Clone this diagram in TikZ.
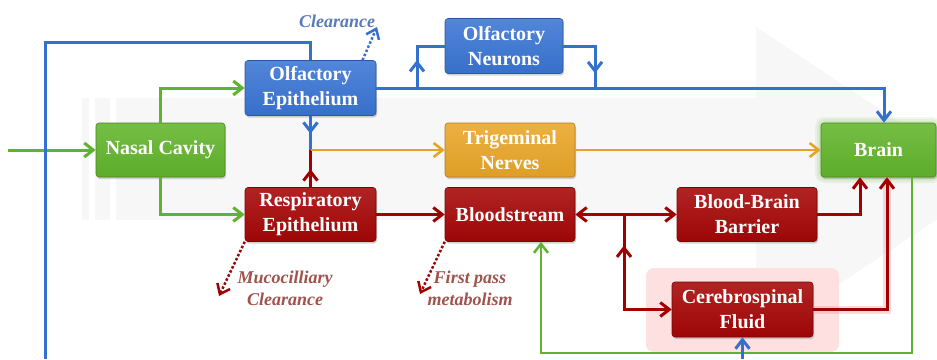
\documentclass[tikz,border=0pt]{standalone}
\usepackage{fontspec}
\setmainfont{Liberation Serif}
\usetikzlibrary{arrows.meta,shadows,decorations.markings}

\definecolor{nasalgreen}{RGB}{98,181,44}
\definecolor{olfblue}{RGB}{58,117,212}
\definecolor{trigorange}{RGB}{234,166,40}
\definecolor{bloodred}{RGB}{166,6,6}
\definecolor{linegreen}{RGB}{96,178,48}
\definecolor{lineblue}{RGB}{52,112,206}
\definecolor{lineorange}{RGB}{228,165,38}
\definecolor{linered}{RGB}{160,0,0}
\definecolor{mucobrown}{RGB}{160,82,76}
\definecolor{clrblue}{RGB}{90,122,184}

\begin{document}
\begin{tikzpicture}[x = {(1pt,0pt)},
  y = {(0pt,-1pt)},
  >={Straight Barb[length=9pt,width=14pt]},
  box/.style = {rounded corners=3pt, draw=#1!75!black, line width=0.6pt,
    top color=#1!88!white, bottom color=#1!95!black, text=white, align=center,
    minimum height=54pt, inner sep=0pt,
    font=\fontsize{20}{25}\selectfont\bfseries,
    drop shadow={opacity=0.35, shadow xshift=1pt, shadow yshift=-2pt}},
  lbl/.style = {align=center, inner sep=0pt,
    font=\fontsize{18}{22}\selectfont\bfseries\itshape},
  gline/.style = {draw=linegreen, line width=3pt},
  bline/.style = {draw=lineblue, line width=3pt},
  oline/.style = {draw=lineorange, line width=2.6pt},
  rline/.style = {draw=linered, line width=3pt},
  rdot/.style = {draw=linered, line width=2.5pt, dotted},
  bdot/.style = {draw=lineblue, line width=2.5pt, dotted},
  midarrow/.style = {postaction={decorate}, decoration={markings,
    mark=at position #1 with {\arrow{>}}}},
  revarrow/.style = {postaction={decorate}, decoration={markings,
    mark=at position #1 with {\arrowreversed{>}}}}]

  \useasboundingbox (0,0) rectangle (937,359);

  % background arrow
  \begin{scope}
  \clip (0,0) rectangle (937,359);
  \foreach \a/\b in {82/89, 95/110, 116/757}
  \fill[black!3] (\a,98) rectangle (\b,220);
  \fill[black!3] (756,27) -- (992,183) -- (756,339) -- cycle;

  % glow round the brain
  \foreach \g in {4,8,12}
  \draw[linegreen!70, opacity=0.15, line width=\g pt, rounded corners=4pt]
  (821,123) rectangle (936,177);
  \end{scope}

  % halo round the fluid
  \fill[red!12, rounded corners=8pt] (646,268) rectangle (839,352);

  % free ends
  \coordinate (inlet) at (8,150);
  \coordinate (topleft) at (45,42);
  \coordinate (botleft) at (45,359);
  \coordinate (nbranch) at (417,88);
  \coordinate (nmerge) at (595,88);
  \coordinate (clrend) at (377,27);
  \coordinate (tjunc) at (310.5,150);
  \coordinate (bjunc) at (624,214.5);
  \coordinate (gbot) at (541,353);
  \coordinate (csfin) at (742.5,359);
  \coordinate (mucoend) at (219,296);
  \coordinate (fpmend) at (420,294);

  % boxes
  \node[box=nasalgreen, minimum width=129pt] (nasal) at (160.5,150) {Nasal Cavity};
  \node[box=olfblue, minimum width=131pt, minimum height=55pt] (olfep)
  at (310.5,88) {Olfactory\\Epithelium};
  \node[box=olfblue, minimum width=118pt, minimum height=55pt] (olfneu)
  at (504,46) {Olfactory\\Neurons};
  \node[box=trigorange, minimum width=130pt] (trig) at (510,150) {Trigeminal\\Nerves};
  \node[box=nasalgreen, minimum width=115pt] (brain) at (878.5,150) {Brain};
  \node[box=bloodred, minimum width=131pt] (respep) at (310.5,214.5)
  {Respiratory\\Epithelium};
  \node[box=bloodred, minimum width=130pt] (blood) at (510,214.5) {Bloodstream};
  \node[box=bloodred, minimum width=140pt] (bbb) at (747,214.5) {Blood-Brain\\Barrier};
  \node[box=bloodred, minimum width=141pt, minimum height=55pt] (csf)
  at (742.5,309.5) {Cerebrospinal\\Fluid};

  % nasal cavity
  \draw[gline,->] (inlet) -- (nasal.west);
  \draw[gline,->] (nasal.north) |- (olfep.west);
  \draw[gline,->] (nasal.south) |- (respep.west);

  % olfactory route
  \draw[bline] (olfep.north) |- (topleft) -- (botleft);
  \draw[bline,->] (olfep.east) -| ([xshift=5.5pt]brain.north);
  \draw[bline,midarrow=28pt] (nbranch) |- (olfneu.west);
  \draw[bline,midarrow=59pt] (olfneu.east) -| (nmerge);
  \draw[bdot,->] ([xshift=52pt]olfep.north) -- (clrend);
  \node[lbl, text=clrblue] (clr) at (337,21) {Clearance};

  % trigeminal route
  \draw[bline,midarrow=18pt] (olfep.south) -- (tjunc);
  \draw[rline,midarrow=18pt] (respep.north) -- (tjunc);
  \draw[oline,->] (tjunc) -- (trig.west);
  \draw[oline,->] (trig.east) -- (brain.west);

  % blood route
  \draw[rline,->] (respep.east) -- (blood.west);
  \draw[rline,<->] (blood.east) -- (bbb.west);
  \draw[rline,->,revarrow=31pt] (bjunc) |- (csf.west);
  \draw[rline,->] (bbb.east) -| ([xshift=-18.5pt]brain.south);
  \draw[red!45, line width=8pt, opacity=0.3] (csf.east) -| ([xshift=8.5pt]brain.south);
  \draw[rline,->] (csf.east) -| ([xshift=8.5pt]brain.south);
  \draw[gline, line width=2.5pt,->] ([xshift=33.5pt]brain.south) |- (gbot)
  -- ([xshift=31pt]blood.south);
  \draw[bline,->] (csfin) -- (csf.south);

  % losses
  \draw[rdot,->] (respep.south west) -- (mucoend);
  \node[lbl, text=mucobrown] (muco) at (285,288) {Mucocilliary\\Clearance};
  \draw[rdot,->] (blood.south west) -- (fpmend);
  \node[lbl, text=mucobrown] (fpm) at (470,288) {First pass\\metabolism};

\end{tikzpicture}
\end{document}
